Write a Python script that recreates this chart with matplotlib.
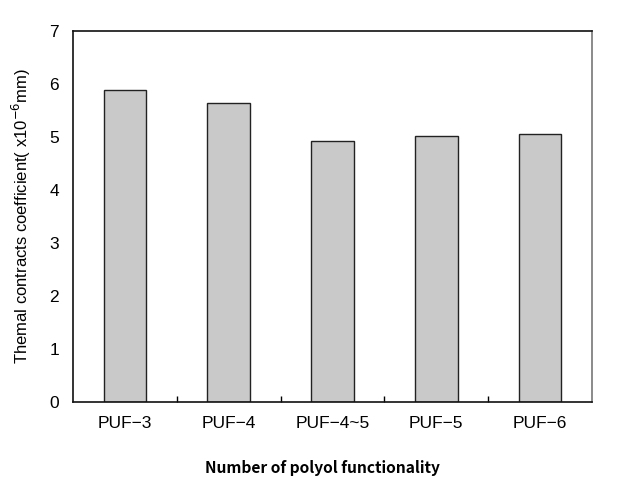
import matplotlib
matplotlib.use("Agg")
import matplotlib.pyplot as plt
import numpy as np

# bar data
samples = ["PUF-3", "PUF-4", "PUF-4~5", "PUF-5", "PUF-6"]
coefficients = [5.89, 5.64, 4.93, 5.01, 5.05]

plt.rcParams['font.family'] = ['Liberation Sans', 'DejaVu Sans']

fig = plt.figure(figsize=(6.21, 4.82), dpi=100)
ax = fig.add_axes([73 / 621, 1 - 402 / 482, 519 / 621, 371 / 482])

x = np.arange(len(samples))
ax.bar(x, coefficients, width=0.41, color='#c9c9c9', edgecolor='#222222', linewidth=1.0)

ax.set_xlim(-0.5, len(samples) - 0.5)
ax.set_ylim(0, 7)
ax.set_yticks(range(0, 8))
ax.set_xticks(x)
ax.set_xticklabels([s.replace("-", "\u2212") for s in samples])
ax.set_xticks(np.arange(0.5, len(samples) - 1, 1.0), minor=True)
ax.tick_params(axis='x', which='major', length=0, pad=10, labelsize=12.5)
ax.tick_params(axis='x', which='minor', direction='in', length=4, width=1)
ax.tick_params(axis='y', length=0, pad=10, labelsize=12.5)

for side in ['left', 'bottom', 'top']:
    ax.spines[side].set_color('#111111')
    ax.spines[side].set_linewidth(1.2)
ax.spines['right'].set_color('#777777')
ax.spines['right'].set_linewidth(1.2)

ax.set_ylabel("Themal contracts coefficient( x10$^{-6}$mm)", fontsize=12, labelpad=12)
ax.set_xlabel("Number of polyol functionality", fontsize=11.2, fontweight='bold',
              family=['Noto Sans CJK KR', 'DejaVu Sans'])
ax.xaxis.set_label_coords(0.48, -0.155)

fig.savefig("out.png", dpi=100)
